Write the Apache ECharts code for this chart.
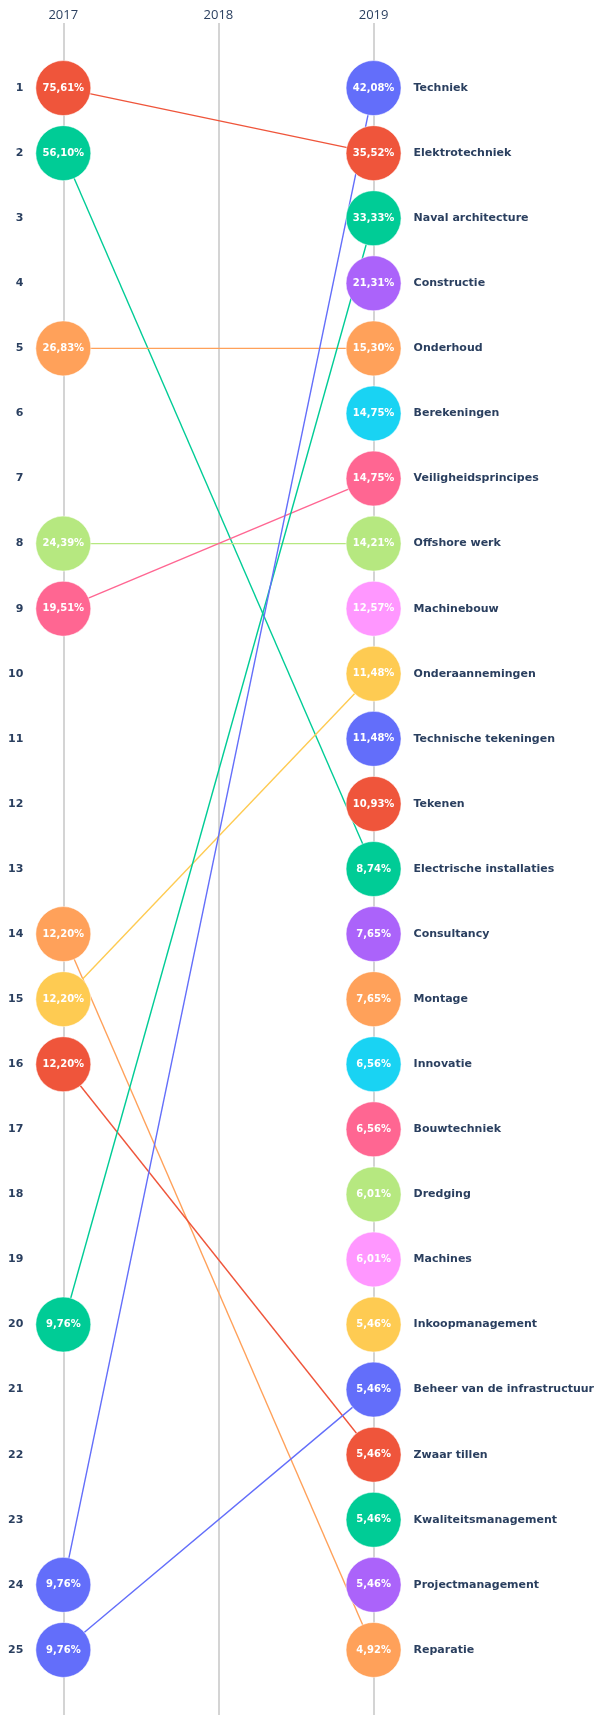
<!DOCTYPE html>
<html>
<head>
<meta charset="utf-8">
<script src="https://cdn.jsdelivr.net/npm/echarts@6/dist/echarts.min.js"></script>
<style>
  html, body { margin: 0; padding: 0; background: #ffffff; }
  #chart { width: 597px; height: 1715px; }
</style>
</head>
<body>
<div id="chart"></div>
<script>
// Years on the horizontal axis
const years = ['2017', '2018', '2019'];

// 2019 ranking: skill names in rank order (rank 1 first) and their shares (%)
const skills2019 = [
  'Techniek', 'Elektrotechniek', 'Naval architecture', 'Constructie', 'Onderhoud',
  'Berekeningen', 'Veiligheidsprincipes', 'Offshore werk', 'Machinebouw', 'Onderaannemingen',
  'Technische tekeningen', 'Tekenen', 'Electrische installaties', 'Consultancy', 'Montage',
  'Innovatie', 'Bouwtechniek', 'Dredging', 'Machines', 'Inkoopmanagement',
  'Beheer van de infrastructuur', 'Zwaar tillen', 'Kwaliteitsmanagement', 'Projectmanagement', 'Reparatie'
];
const share2019 = [
  42.08, 35.52, 33.33, 21.31, 15.30,
  14.75, 14.75, 14.21, 12.57, 11.48,
  11.48, 10.93, 8.74, 7.65, 7.65,
  6.56, 6.56, 6.01, 6.01, 5.46,
  5.46, 5.46, 5.46, 5.46, 4.92
];

// 2017 ranking: skills present in 2017, their rank and share (%)
const skills2017 = [
  'Elektrotechniek', 'Electrische installaties', 'Onderhoud', 'Offshore werk', 'Veiligheidsprincipes',
  'Reparatie', 'Onderaannemingen', 'Zwaar tillen', 'Naval architecture', 'Techniek',
  'Beheer van de infrastructuur'
];
const rank2017 = [1, 2, 5, 8, 9, 14, 15, 16, 20, 24, 25];
const share2017 = [75.61, 56.10, 26.83, 24.39, 19.51, 12.20, 12.20, 12.20, 9.76, 9.76, 9.76];

// Qualitative palette, assigned per skill by its 2019 position
const palette = ['#636efa', '#EF553B', '#00cc96', '#ab63fa', '#FFA15A',
                 '#19d3f3', '#FF6692', '#B6E880', '#FF97FF', '#FECB52'];
const colorOf = name => palette[skills2019.indexOf(name) % palette.length];
const pct = v => v.toFixed(2).replace('.', ',') + '%';

const textColor = '#2a3f5f';
const boldFont = 'Verdana, "DejaVu Sans", sans-serif';

// Connecting lines from 2017 rank to 2019 rank
const lineSeries = skills2017.map((name, i) => ({
  type: 'line',
  name: name,
  data: [[years[0], rank2017[i]], [years[2], skills2019.indexOf(name) + 1]],
  symbol: 'none',
  silent: true,
  z: 2,
  lineStyle: { color: colorOf(name), width: 1.4, opacity: 1 }
}));

const bubbleLabel = {
  show: true,
  position: 'inside',
  color: '#ffffff',
  fontFamily: boldFont,
  fontWeight: 'bold',
  fontSize: 10,
  formatter: p => pct(p.data.share)
};

const bubbleStyle = name => ({
  color: colorOf(name),
  opacity: 1,
  borderColor: 'rgba(255,255,255,0.5)',
  borderWidth: 1
});

const bubbles2017 = {
  type: 'scatter',
  symbolSize: 55,
  z: 3,
  data: skills2017.map((name, i) => ({
    value: [years[0], rank2017[i]],
    share: share2017[i],
    itemStyle: bubbleStyle(name)
  })),
  label: bubbleLabel
};

const bubbles2019 = {
  type: 'scatter',
  symbolSize: 55,
  z: 3,
  data: skills2019.map((name, i) => ({
    value: [years[2], i + 1],
    share: share2019[i],
    itemStyle: bubbleStyle(name)
  })),
  label: bubbleLabel
};

const rankAxisBase = {
  type: 'value',
  inverse: true,
  min: 0,
  max: 26,
  interval: 1,
  axisLine: { show: false },
  axisTick: { show: false },
  splitLine: { show: false }
};

const chart = echarts.init(document.getElementById('chart'), null, { renderer: 'canvas' });
chart.setOption({
  backgroundColor: '#ffffff',
  animation: false,
  grid: { left: 63.3, top: 23, width: 315, height: 1697, containLabel: false },
  xAxis: {
    type: 'category',
    data: years,
    boundaryGap: false,
    position: 'top',
    axisLine: { show: false },
    axisTick: { show: false },
    axisLabel: {
      color: textColor,
      fontFamily: '"Open Sans", sans-serif',
      fontSize: 13,
      margin: 1
    },
    splitLine: { show: true, lineStyle: { color: '#d4d4d4', width: 2 } }
  },
  yAxis: [
    Object.assign({}, rankAxisBase, {
      position: 'left',
      axisLabel: {
        margin: 40,
        color: textColor,
        fontFamily: boldFont,
        fontWeight: 'bold',
        fontSize: 11,
        formatter: v => (v >= 1 && v <= skills2019.length ? String(v) : '')
      }
    }),
    Object.assign({}, rankAxisBase, {
      position: 'right',
      axisLabel: {
        margin: 40,
        color: textColor,
        fontFamily: boldFont,
        fontWeight: 'bold',
        fontSize: 11,
        formatter: v => (v >= 1 && v <= skills2019.length ? skills2019[v - 1] : '')
      }
    })
  ],
  series: lineSeries.concat([bubbles2017, bubbles2019])
});
</script>
</body>
</html>
